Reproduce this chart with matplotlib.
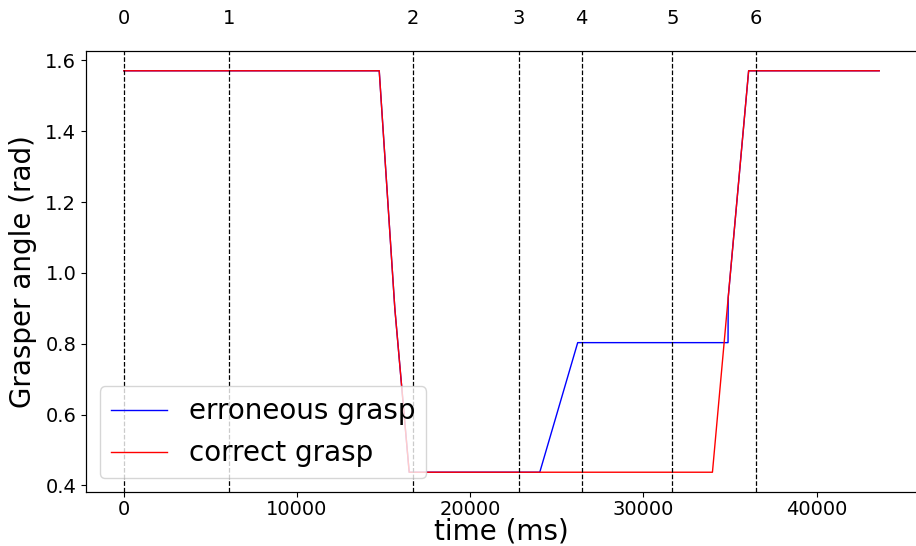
import matplotlib
matplotlib.use("Agg")
import matplotlib.pyplot as plt

# Grasper angle traces (time in ms, angle in rad)
t_erroneous = [0, 14750, 15650, 16480, 24020, 26210, 34890, 34900, 36080, 43620]
a_erroneous = [1.5708, 1.5708, 0.90, 0.437, 0.437, 0.803, 0.803, 0.93, 1.5708, 1.5708]

t_correct = [0, 14750, 15650, 16480, 33990, 36080, 43620]
a_correct = [1.5708, 1.5708, 0.90, 0.437, 0.437, 1.5708, 1.5708]

# Segment boundaries (ms) and their labels on the top axis
boundaries = [0, 6080, 16690, 22830, 26430, 31670, 36510]
boundary_labels = ["0", "1", "2", "3", "4", "5", "6"]

fig = plt.figure(figsize=(9.16, 5.46), dpi=100)
ax = fig.add_axes([86 / 916, 1 - 492.3 / 546, (917 - 86) / 916, (492.3 - 50.7) / 546])

ax.plot(t_erroneous, a_erroneous, color="blue", lw=1, label="erroneous grasp")
ax.plot(t_correct, a_correct, color="red", lw=1, label="correct grasp")

for b in boundaries:
    ax.axvline(b, color="black", ls="--", lw=0.9)

ax.set_xlabel("time (ms)", fontsize=20, labelpad=-1)
ax.set_ylabel("Grasper angle (rad)", fontsize=20, labelpad=6)
ax.tick_params(labelsize=14)
ax.tick_params(axis="x", pad=2)
ax.set_yticks([0.4, 0.6, 0.8, 1.0, 1.2, 1.4, 1.6])

top = ax.twiny()
top.set_xlim(ax.get_xlim())
top.set_xticks(boundaries)
top.set_xticklabels(boundary_labels)
top.tick_params(axis="x", length=0, pad=16, labelsize=14)

ax.legend(loc="lower left", fontsize=20)

fig.savefig("out.png", dpi=100)
